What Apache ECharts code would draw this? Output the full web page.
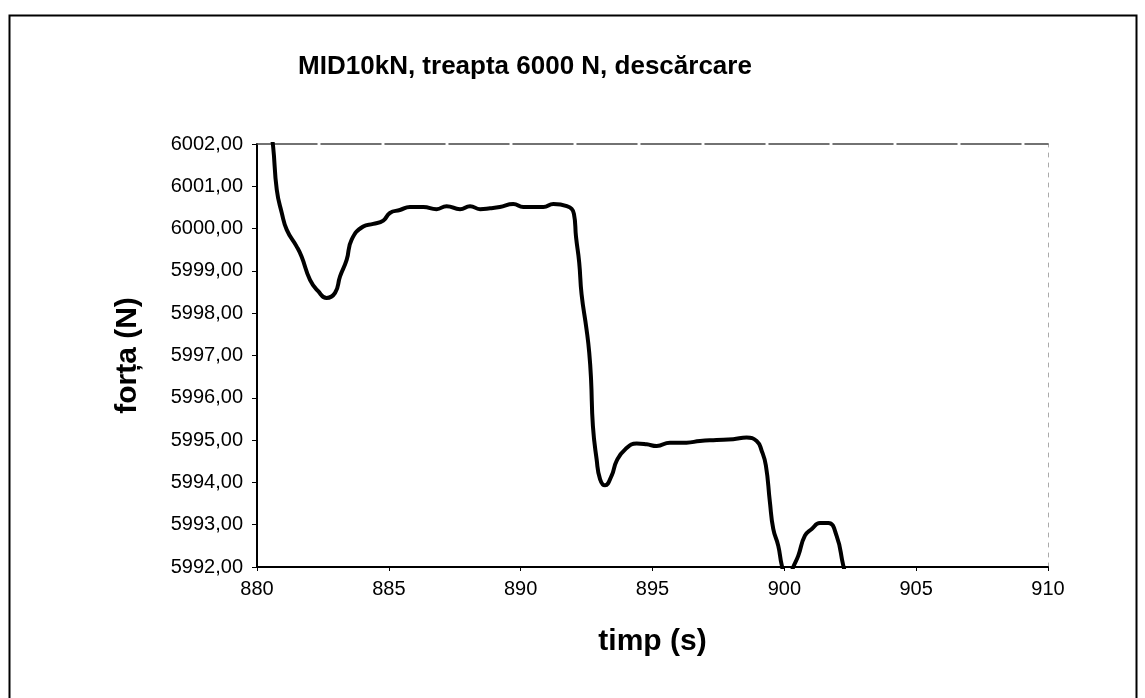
<!DOCTYPE html>
<html>
<head>
<meta charset="utf-8">
<title>MID10kN, treapta 6000 N, descărcare</title>
<script src="https://cdn.jsdelivr.net/npm/echarts@6/dist/echarts.min.js"></script>
<style>
  html, body { margin: 0; padding: 0; background: #fff; }
  #chart { width: 1145px; height: 698px; }
</style>
</head>
<body>
<div id="chart"></div>
<script>
// Time (s) of each recorded sample
const timeS = [
  880.50, 880.61, 880.75, 880.94, 881.13, 881.50, 881.69, 882.01, 882.32, 882.64,
  882.96, 883.15, 883.40, 883.59, 884.03, 884.41, 884.79, 885.04, 885.42, 885.80,
  886.31, 886.81, 887.19, 887.70, 888.08, 888.46, 888.84, 889.21, 889.72, 890.10,
  890.86, 891.24, 891.75, 892.02, 892.10, 892.22, 892.31, 892.50, 892.60, 892.67,
  892.74, 892.88, 893.01, 893.20, 893.45, 893.64, 893.96, 894.40, 894.78, 895.16,
  895.66, 896.29, 896.80, 897.43, 898.06, 898.57, 898.95, 899.14, 899.30, 899.45,
  899.58, 899.77, 899.90, 900.10, 900.34, 900.53, 900.78, 901.04, 901.35, 901.67,
  901.98, 902.23, 902.40
];
// Measured force (N) at each sample
const forceN = [
  6002.40, 6001.95, 6000.92, 6000.37, 5999.97, 5999.58, 5999.34, 5998.79, 5998.52, 5998.36,
  5998.48, 5998.87, 5999.26, 5999.74, 6000.05, 6000.11, 6000.19, 6000.37, 6000.44, 6000.51,
  6000.51, 6000.46, 6000.53, 6000.46, 6000.53, 6000.46, 6000.48, 6000.51, 6000.58, 6000.51,
  6000.51, 6000.58, 6000.53, 6000.35, 5999.80, 5999.20, 5998.45, 5997.61, 5997.07, 5996.43,
  5995.33, 5994.55, 5994.08, 5993.93, 5994.16, 5994.51, 5994.78, 5994.92, 5994.90, 5994.86,
  5994.94, 5994.94, 5994.98, 5995.00, 5995.02, 5995.06, 5994.98, 5994.75, 5994.40, 5993.55,
  5992.90, 5992.50, 5992.05, 5991.60, 5992.00, 5992.27, 5992.74, 5992.90, 5993.04, 5993.04,
  5992.74, 5992.05, 5991.60
];

const titleText = 'MID10kN, treapta 6000 N, descărcare';
const xName = 'timp (s)';
const yName = 'forța (N)';
const xMin = 880, xMax = 910, xStep = 5;
const yMin = 5992, yMax = 6002, yStep = 1;

const points = timeS.map((t, i) => [t, forceN[i]]);
const font = 'Arial, "Liberation Sans", Helvetica, sans-serif';

const chart = echarts.init(document.getElementById('chart'), null, { renderer: 'canvas' });
chart.setOption({
  backgroundColor: '#ffffff',
  animation: false,
  title: {
    text: titleText,
    left: 520, top: 49,
    textAlign: 'center',
    textStyle: { fontFamily: font, fontSize: 26, fontWeight: 'bold', color: '#000' }
  },
  graphic: [{
    type: 'rect',
    shape: { x: 9.5, y: 15.5, width: 1127, height: 690 },
    style: { fill: 'none', stroke: '#000', lineWidth: 2 },
    silent: true
  }],
  grid: { left: 257, right: 97, top: 144, bottom: 131 },
  xAxis: [{
    type: 'value',
    min: xMin, max: xMax, interval: xStep,
    name: xName, nameLocation: 'middle', nameGap: 60,
    nameTextStyle: { fontFamily: font, fontSize: 30, fontWeight: 'bold', color: '#000' },
    axisLine: { show: true, onZero: false, lineStyle: { color: '#000', width: 2 } },
    axisTick: { show: true, inside: false, length: 4, lineStyle: { color: '#000' } },
    axisLabel: { fontFamily: font, fontSize: 20, color: '#000', margin: 12 },
    splitLine: { show: false }
  }, {
    type: 'value', position: 'top',
    min: xMin, max: xMax,
    axisLine: { show: true, onZero: false, lineStyle: { color: '#444', width: 1.5, type: [60, 4] } },
    axisTick: { show: false }, axisLabel: { show: false }, splitLine: { show: false }
  }],
  yAxis: [{
    type: 'value',
    min: yMin, max: yMax, interval: yStep,
    name: yName, nameLocation: 'middle', nameGap: 114, nameRotate: 90,
    nameTextStyle: { fontFamily: font, fontSize: 30, fontWeight: 'bold', color: '#000' },
    axisLine: { show: true, onZero: false, lineStyle: { color: '#000', width: 2 } },
    axisTick: { show: true, inside: false, length: 5, lineStyle: { color: '#000' } },
    axisLabel: {
      fontFamily: font, fontSize: 20, color: '#000', margin: 14,
      formatter: v => v.toFixed(2).replace('.', ',')
    },
    splitLine: { show: false }
  }, {
    type: 'value', position: 'right',
    min: yMin, max: yMax,
    axisLine: { show: true, onZero: false, lineStyle: { color: '#aaa', width: 1, type: [4, 6] } },
    axisTick: { show: false }, axisLabel: { show: false }, splitLine: { show: false }
  }],
  series: [{
    type: 'line',
    data: points,
    xAxisIndex: 0, yAxisIndex: 0,
    showSymbol: false,
    smooth: 0.5,
    clip: true,
    lineStyle: { color: '#000', width: 4, join: 'round', cap: 'round' }
  }]
});
</script>
</body>
</html>
